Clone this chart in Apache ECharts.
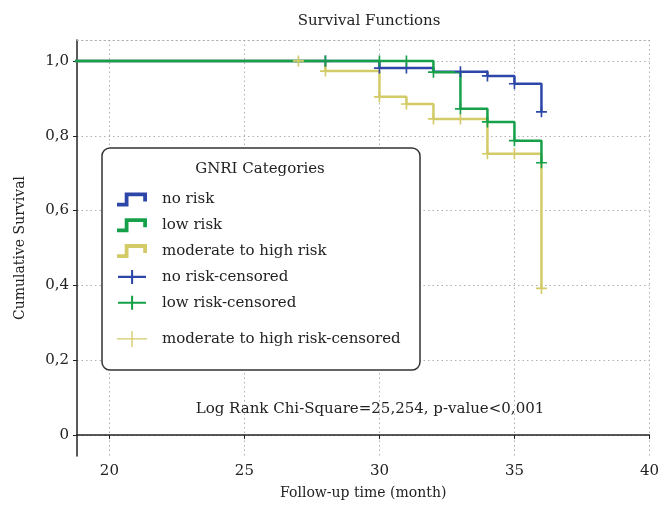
<!DOCTYPE html>
<html>
<head>
<meta charset="utf-8">
<script src="https://cdn.jsdelivr.net/npm/echarts@6/dist/echarts.min.js"></script>
<style>html,body{margin:0;padding:0;background:#fff}#c{width:662px;height:505px}</style>
</head>
<body>
<div id="c"></div>
<script>
// ---- data ----
var xTicks = [20, 25, 30, 35, 40];
var yTicks = [0, 0.2, 0.4, 0.6, 0.8, 1.0];
var noRisk = [[0, 1.0], [30, 0.981], [32, 0.971], [34, 0.960], [35, 0.939], [36, 0.864]];
var lowRisk = [[0, 1.0], [32, 0.970], [33, 0.872], [34, 0.837], [35, 0.787], [36, 0.728]];
var modRisk = [[0, 1.0], [28, 0.973], [30, 0.904], [31, 0.885], [32, 0.845], [34, 0.752], [36, 0.392]];
var noRiskCens = [[28, 1.0], [30, 0.981], [31, 0.981], [33, 0.971], [34, 0.960], [35, 0.939], [36, 0.864]];
var lowRiskCens = [[28, 1.0], [30, 1.0], [31, 1.0], [32, 0.970], [33, 0.872], [34, 0.837], [35, 0.787], [36, 0.728]];
var modRiskCens = [[27, 1.0], [28, 0.973], [30, 0.904], [31, 0.885], [32, 0.845], [33, 0.845], [34, 0.752], [35, 0.752], [36, 0.392]];
var names = ['no risk', 'low risk', 'moderate to high risk', 'no risk-censored', 'low risk-censored', 'moderate to high risk-censored'];

var BLUE = '#2c47a8', GREEN = '#17a04a', YEL = '#d3cb68';
var FONT = 'DejaVu Serif';
var stepIcon = 'path://M0,14L11.5,14L11.5,3.8L26.2,3.8L26.2,9L30,9L30,0L7.7,0L7.7,10.2L0,10.2Z';
var plusIcon = 'path://M0,6.4L14,6.4L14,0L16.2,0L16.2,6.4L30,6.4L30,8.6L16.2,8.6L16.2,15L14,15L14,8.6L0,8.6Z';
var plusThin = 'path://M0,7.3L14.4,7.3L14.4,0L15.7,0L15.7,7.3L30,7.3L30,8.6L15.7,8.6L15.7,16L14.4,16L14.4,8.6L0,8.6Z';
var plusSym = 'path://M0,5.1L12,5.1L12,6.9L0,6.9Z M5.1,0L6.9,0L6.9,12L5.1,12Z';

var chart = echarts.init(document.getElementById('c'), null, {renderer: 'canvas'});
function lineS(name, data, color, z) {
  return {name: name, type: 'line', step: 'end', data: data, symbol: 'none', z: z,
    lineStyle: {color: color, width: 2.5}, itemStyle: {color: color}, clip: true};
}
function censS(name, data, color, z) {
  return {name: name, type: 'scatter', data: data, symbol: plusSym, symbolSize: 11, z: z,
    itemStyle: {color: color, opacity: 1}, clip: false};
}
var dotted = {color: '#b0b0b0', type: [1.5, 3], width: 1};
var option = {
  animation: false,
  backgroundColor: '#fff',
  textStyle: {fontFamily: FONT},
  title: [
    {text: 'Survival Functions', left: 364, top: 9, textAlign: 'center', z: 20,
      textStyle: {fontFamily: FONT, fontSize: 15, fontWeight: 'normal', color: '#222'}},
    {text: 'GNRI Categories', left: 255, top: 157, textAlign: 'center', z: 20,
      textStyle: {fontFamily: FONT, fontSize: 15, fontWeight: 'normal', color: '#222'}}
  ],
  grid: {left: 77, right: 12, top: 40, bottom: 48},
  xAxis: [{
    type: 'value', min: 18.8, max: 40,
    name: 'Follow-up time (month)', nameLocation: 'middle', nameGap: 30,
    nameTextStyle: {fontFamily: FONT, fontSize: 14, color: '#222'},
    axisLine: {show: true, lineStyle: {color: '#222', width: 1.5}},
    axisTick: {show: true, length: 4, customValues: xTicks, lineStyle: {color: '#222'}},
    axisLabel: {customValues: xTicks, fontFamily: FONT, fontSize: 15, color: '#222', margin: 8},
    splitLine: {show: true, customValues: xTicks, lineStyle: dotted}
  }, {
    type: 'value', position: 'top', min: 18.8, max: 40,
    axisLine: {show: true, lineStyle: dotted},
    axisTick: {show: false}, axisLabel: {show: false}, splitLine: {show: false}
  }],
  yAxis: [{
    type: 'value', min: -0.056, max: 1.056,
    name: 'Cumulative Survival', nameLocation: 'middle', nameGap: 50, nameRotate: 90,
    nameTextStyle: {fontFamily: FONT, fontSize: 14, color: '#222'},
    axisLine: {show: true, lineStyle: {color: '#222', width: 1.5}},
    axisTick: {show: true, length: 4, customValues: yTicks, lineStyle: {color: '#222'}},
    axisLabel: {customValues: yTicks, fontFamily: FONT, fontSize: 15, color: '#222', margin: 8,
      formatter: function (v) { return v === 0 ? '0' : v.toFixed(1).replace('.', ','); }},
    splitLine: {show: true, customValues: yTicks, lineStyle: dotted}
  }],
  legend: [{
    orient: 'vertical', left: 117, top: 192, padding: 0, itemGap: 10.8, z: 20,
    itemWidth: 32, itemHeight: 14, selectedMode: false,
    textStyle: {fontFamily: FONT, fontSize: 15, color: '#222', padding: [0, 0, 0, 9]},
    data: [
      {name: names[0], icon: stepIcon},
      {name: names[1], icon: stepIcon},
      {name: names[2], icon: stepIcon},
      {name: names[3], icon: plusIcon},
      {name: names[4], icon: plusIcon}
    ]
  }, {
    orient: 'vertical', left: 117, top: 331, padding: 0, z: 20,
    itemWidth: 32, itemHeight: 16, selectedMode: false,
    textStyle: {fontFamily: FONT, fontSize: 15, color: '#222', padding: [0, 0, 0, 9]},
    data: [{name: names[5], icon: plusThin}]
  }],
  graphic: [
    {type: 'rect', shape: {x: 102, y: 148, width: 318, height: 222, r: 8}, z: 10,
      style: {fill: '#fff', stroke: '#333', lineWidth: 1.5}},
    {type: 'text', x: 370, y: 409, z: 10,
      style: {text: 'Log Rank Chi-Square=25,254, p-value<0,001', fontFamily: FONT, fontSize: 15,
        fill: '#222', align: 'center', verticalAlign: 'middle'}}
  ],
  series: [
    lineS(names[2], modRisk, YEL, 2),
    lineS(names[0], noRisk, BLUE, 3),
    lineS(names[1], lowRisk, GREEN, 4),
    censS(names[5], modRiskCens, YEL, 5),
    censS(names[3], noRiskCens, BLUE, 6),
    censS(names[4], lowRiskCens, GREEN, 7)
  ]
};
chart.setOption(option);
</script>
</body>
</html>
